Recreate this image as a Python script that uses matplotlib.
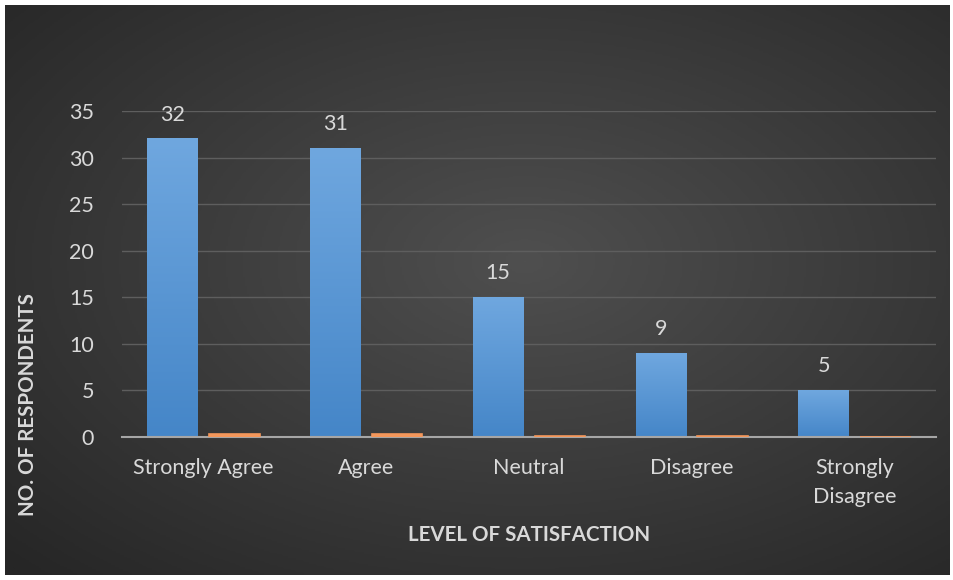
import numpy as np
import matplotlib.pyplot as plt
from matplotlib.colors import LinearSegmentedColormap

categories = ['Strongly Agree', 'Agree', 'Neutral', 'Disagree', 'Strongly\nDisagree']
respondents = [32, 31, 15, 9, 5]
share = [0.32, 0.31, 0.15, 0.09, 0.05]

plt.rcParams['font.family'] = ['Lato', 'DejaVu Sans']
txt = '#d9d9d9'

fig = plt.figure(figsize=(9.54, 5.8), dpi=100)
fig.patch.set_facecolor('white')

# dark radial background
bg = fig.add_axes([5 / 954, 5 / 580, 945 / 954, 570 / 580], zorder=-5)
yy, xx = np.mgrid[0:1:300j, 0:1:500j]
r = np.sqrt(((xx - 0.55) / 0.9) ** 2 + ((yy - 0.45) / 0.9) ** 2)
bg.imshow(np.clip(r, 0, 1), cmap=LinearSegmentedColormap.from_list('bg', ['#4f4f4f', '#262626']),
          aspect='auto', extent=[0, 1, 0, 1], vmin=0, vmax=0.85)
bg.axis('off')

ax = fig.add_axes([122 / 954, 1 - 437 / 580, 814 / 954, 326 / 580])
ax.patch.set_alpha(0)

x = np.arange(len(categories))
w = 0.31
off = 0.19
blue_cmap = LinearSegmentedColormap.from_list('blue', ['#4586c8', '#6fa7df'])
grad = np.linspace(0, 1, 100).reshape(-1, 1)
for xi, v in zip(x, respondents):
    ax.imshow(grad, cmap=blue_cmap, aspect='auto', origin='lower',
              extent=[xi - off - w / 2, xi - off + w / 2, 0, v], zorder=3)
    ax.text(xi - off, v + 1.5, str(v), ha='center', va='bottom', color=txt, fontsize=15.5)
ax.bar(x + off, share, width=w, color='#f4975b', edgecolor='#f4975b', linewidth=1.2, zorder=5)

ax.set_xlim(-0.5, len(categories) - 0.5)
ax.set_ylim(0, 35)
ax.set_yticks(range(0, 36, 5))
ax.grid(axis='y', color='#5e5e5e', linewidth=1, zorder=0)
ax.set_axisbelow(True)
for s in ['top', 'right', 'left']:
    ax.spines[s].set_visible(False)
ax.spines['bottom'].set_color('#a6a6a6')
ax.spines['bottom'].set_linewidth(1.5)
ax.spines['bottom'].set_zorder(4)
ax.set_xticks(x)
ax.set_xticklabels(categories, color=txt, fontsize=15.5, linespacing=1.6)
ax.tick_params(axis='x', length=0, pad=15)
ax.tick_params(axis='y', length=0, colors=txt, labelsize=15.5, pad=20)

fig.text(529 / 954, 1 - 535 / 580, 'LEVEL OF SATISFACTION', ha='center', va='center',
         color=txt, fontsize=14.8, fontweight='bold')
fig.text(28 / 954, 1 - 405 / 580, 'NO. OF RESPONDENTS', ha='center', va='center',
         rotation=90, color=txt, fontsize=14.8, fontweight='bold')

fig.savefig('out.png', dpi=100)
